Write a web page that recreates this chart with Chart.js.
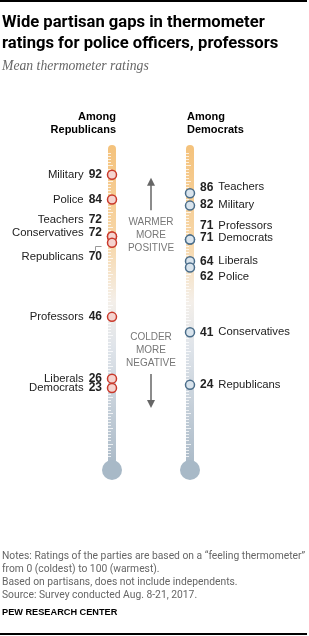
<!DOCTYPE html>
<html>
<head>
<meta charset="utf-8">
<script src="https://cdn.jsdelivr.net/npm/chart.js@4/dist/chart.umd.min.js"></script>
<style>
  html, body { margin: 0; padding: 0; background: #fff; }
  body { width: 309px; height: 636px; position: relative; overflow: hidden; font-family: "Liberation Sans", Arial, sans-serif; }
  #chart { position: absolute; left: 0; top: 0; }
  .abs { position: absolute; }
  .rule { left: 0; width: 307px; height: 2px; background: #000; }
  #title { left: 2px; top: 11px; font-family: Roboto, sans-serif; font-weight: 700; font-size: 16.6px; line-height: 21px; color: #000; }
  #sub { left: 2px; top: 58px; font-family: "Liberation Serif", serif; font-style: italic; font-size: 13.7px; color: #666; }
  .head { top: 110px; font-weight: 700; font-size: 11px; line-height: 13px; color: #000; }
  .mid { left: 110px; width: 82px; text-align: center; font-size: 10px; line-height: 13px; color: #777; }
  #notes { left: 2px; top: 549px; font-family: Roboto, sans-serif; font-size: 10.3px; line-height: 13px; color: #666; }
  #pew { left: 2px; top: 607px; font-weight: 700; font-size: 9.2px; color: #000; }
</style>
</head>
<body>
<canvas id="chart" width="309" height="636"></canvas>
<div class="abs rule" style="top:0"></div>
<div class="abs" id="title">Wide partisan gaps in thermometer<br>ratings for police officers, professors</div>
<div class="abs" id="sub">Mean thermometer ratings</div>
<div class="abs head" style="right:193px;text-align:right">Among<br>Republicans</div>
<div class="abs head" style="left:187px">Among<br>Democrats</div>
<div class="abs mid" style="top:215px">WARMER<br>MORE<br>POSITIVE</div>
<div class="abs mid" style="top:330px">COLDER<br>MORE<br>NEGATIVE</div>
<div class="abs" id="notes">Notes: Ratings of the parties are based on a “feeling thermometer”<br>from 0 (coldest) to 100 (warmest).<br>Based on partisans, does not include independents.<br>Source: Survey conducted Aug. 8-21, 2017.</div>
<div class="abs" id="pew">PEW RESEARCH CENTER</div>
<div class="abs rule" style="top:633px"></div>
<script>
// ── Datos ─────────────────────────────────────────────────────
const parties = ['Republicans', 'Democrats'];
const repGroups = ['Military', 'Police', 'Teachers', 'Conservatives', 'Republicans', 'Professors', 'Liberals', 'Democrats'];
const repValues = [92, 84, 72, 72, 70, 46, 26, 23];
const demGroups = ['Teachers', 'Military', 'Professors', 'Democrats', 'Liberals', 'Police', 'Conservatives', 'Republicans'];
const demValues = [86, 82, 71, 71, 64, 62, 41, 24];

// label nudges (px) so overlapping labels stay readable
const repNudge = [0, 0, -17, -4, 14, 0, 0, 0];
const demNudge = [-6, -1, -14, -2, 0, 9, 0, 0];
const repLeader = [false, false, false, false, true, false, false, false];

// ── Termómetros + etiquetas ───────────────────────────────────
const thermo = {
    id: 'thermo',
    beforeDatasetsDraw(chart) {
        const { ctx, scales: { x, y } } = chart;
        const top = y.getPixelForValue(100) - 5;
        const bottom = y.getPixelForValue(0);
        parties.forEach((p, i) => {
            const cx = x.getPixelForValue(i);
            const grad = ctx.createLinearGradient(0, top, 0, bottom + 12);
            grad.addColorStop(0, '#f4c27c');
            grad.addColorStop(0.3, '#f7d7a9');
            grad.addColorStop(0.48, '#f4efe9');
            grad.addColorStop(0.62, '#dfe4ea');
            grad.addColorStop(1, '#a8b8c6');
            ctx.save();
            ctx.fillStyle = grad;
            ctx.beginPath();
            ctx.roundRect(cx - 4, top, 8, bottom + 12 - top, [4, 4, 0, 0]);
            ctx.fill();
            // bulb
            ctx.fillStyle = '#a8b9c7';
            ctx.beginPath();
            ctx.arc(cx, bottom + 11, 10, 0, Math.PI * 2);
            ctx.fill();
            // ticks
            ctx.strokeStyle = 'rgba(255,255,255,0.75)';
            ctx.lineWidth = 1;
            for (let v = 1; v < 100; v++) {
                const ty = Math.round(y.getPixelForValue(v)) + 0.5;
                ctx.beginPath();
                ctx.moveTo(cx - 4, ty);
                ctx.lineTo(cx - 4 + (v % 5 === 0 ? 5 : 3), ty);
                ctx.stroke();
            }
            ctx.restore();
        });
        // arrows
        const mx = (x.getPixelForValue(0) + x.getPixelForValue(1)) / 2;
        ctx.save();
        ctx.strokeStyle = '#666';
        ctx.fillStyle = '#666';
        ctx.lineWidth = 1.5;
        [[y.getPixelForValue(80.5), y.getPixelForValue(91)], [y.getPixelForValue(27.5), y.getPixelForValue(16.5)]].forEach(([a, b]) => {
            const d = b < a ? 1 : -1;
            ctx.beginPath();
            ctx.moveTo(mx, a);
            ctx.lineTo(mx, b + d * 6);
            ctx.stroke();
            ctx.beginPath();
            ctx.moveTo(mx, b);
            ctx.lineTo(mx - 4, b + d * 8);
            ctx.lineTo(mx + 4, b + d * 8);
            ctx.closePath();
            ctx.fill();
        });
        ctx.restore();
    },
    afterDatasetsDraw(chart) {
        const { ctx, scales: { x, y } } = chart;
        ctx.save();
        ctx.textBaseline = 'middle';
        ctx.fillStyle = '#222';
        // left
        const lx = x.getPixelForValue(0) - 10;
        repGroups.forEach((g, i) => {
            const cy = y.getPixelForValue(repValues[i]);
            const ty = cy + repNudge[i];
            ctx.font = 'bold 12px "Liberation Sans", Arial, sans-serif';
            ctx.textAlign = 'right';
            const n = String(repValues[i]);
            ctx.fillText(n, lx, ty);
            const nw = ctx.measureText(n).width;
            ctx.font = '11.3px "Liberation Sans", Arial, sans-serif';
            ctx.fillText(g, lx - nw - 5, ty);
            if (repLeader[i]) {
                ctx.save();
                ctx.strokeStyle = '#999';
                ctx.lineWidth = 1;
                const bx = Math.round(lx - nw / 2) + 0.5;
                const by = Math.round(cy + 3) + 0.5;
                ctx.beginPath();
                ctx.moveTo(bx + 6, by);
                ctx.lineTo(bx, by);
                ctx.lineTo(bx, by + 5);
                ctx.stroke();
                ctx.restore();
            }
        });
        // right
        const rx = x.getPixelForValue(1) + 10;
        demGroups.forEach((g, i) => {
            const ty = y.getPixelForValue(demValues[i]) + demNudge[i];
            ctx.textAlign = 'left';
            ctx.font = 'bold 12px "Liberation Sans", Arial, sans-serif';
            const n = String(demValues[i]);
            ctx.fillText(n, rx, ty);
            const nw = ctx.measureText(n).width;
            ctx.font = '11.3px "Liberation Sans", Arial, sans-serif';
            ctx.fillText(g, rx + nw + 5, ty);
        });
        ctx.restore();
    }
};

new Chart(document.getElementById('chart').getContext('2d'), {
    type: 'scatter',
    data: {
        datasets: [
            {
                data: repValues.map(v => ({ x: parties[0], y: v })),
                pointRadius: 4.5, borderWidth: 1.5,
                borderColor: '#c9392b', backgroundColor: '#f5d3cf', clip: false,
            },
            {
                data: demValues.map(v => ({ x: parties[1], y: v })),
                pointRadius: 4.5, borderWidth: 1.5,
                borderColor: '#4a6d8a', backgroundColor: '#d9e4ed', clip: false,
            }
        ]
    },
    options: {
        responsive: false, animation: false, devicePixelRatio: 1,
        layout: { padding: { left: 112, right: 119, top: 150, bottom: 177 } },
        scales: {
            x: { type: 'category', labels: parties, offset: false, display: false },
            y: { min: 0, max: 100, display: false }
        },
        plugins: { legend: { display: false }, tooltip: { enabled: false } },
        events: []
    },
    plugins: [thermo]
});
</script>
</body>
</html>
